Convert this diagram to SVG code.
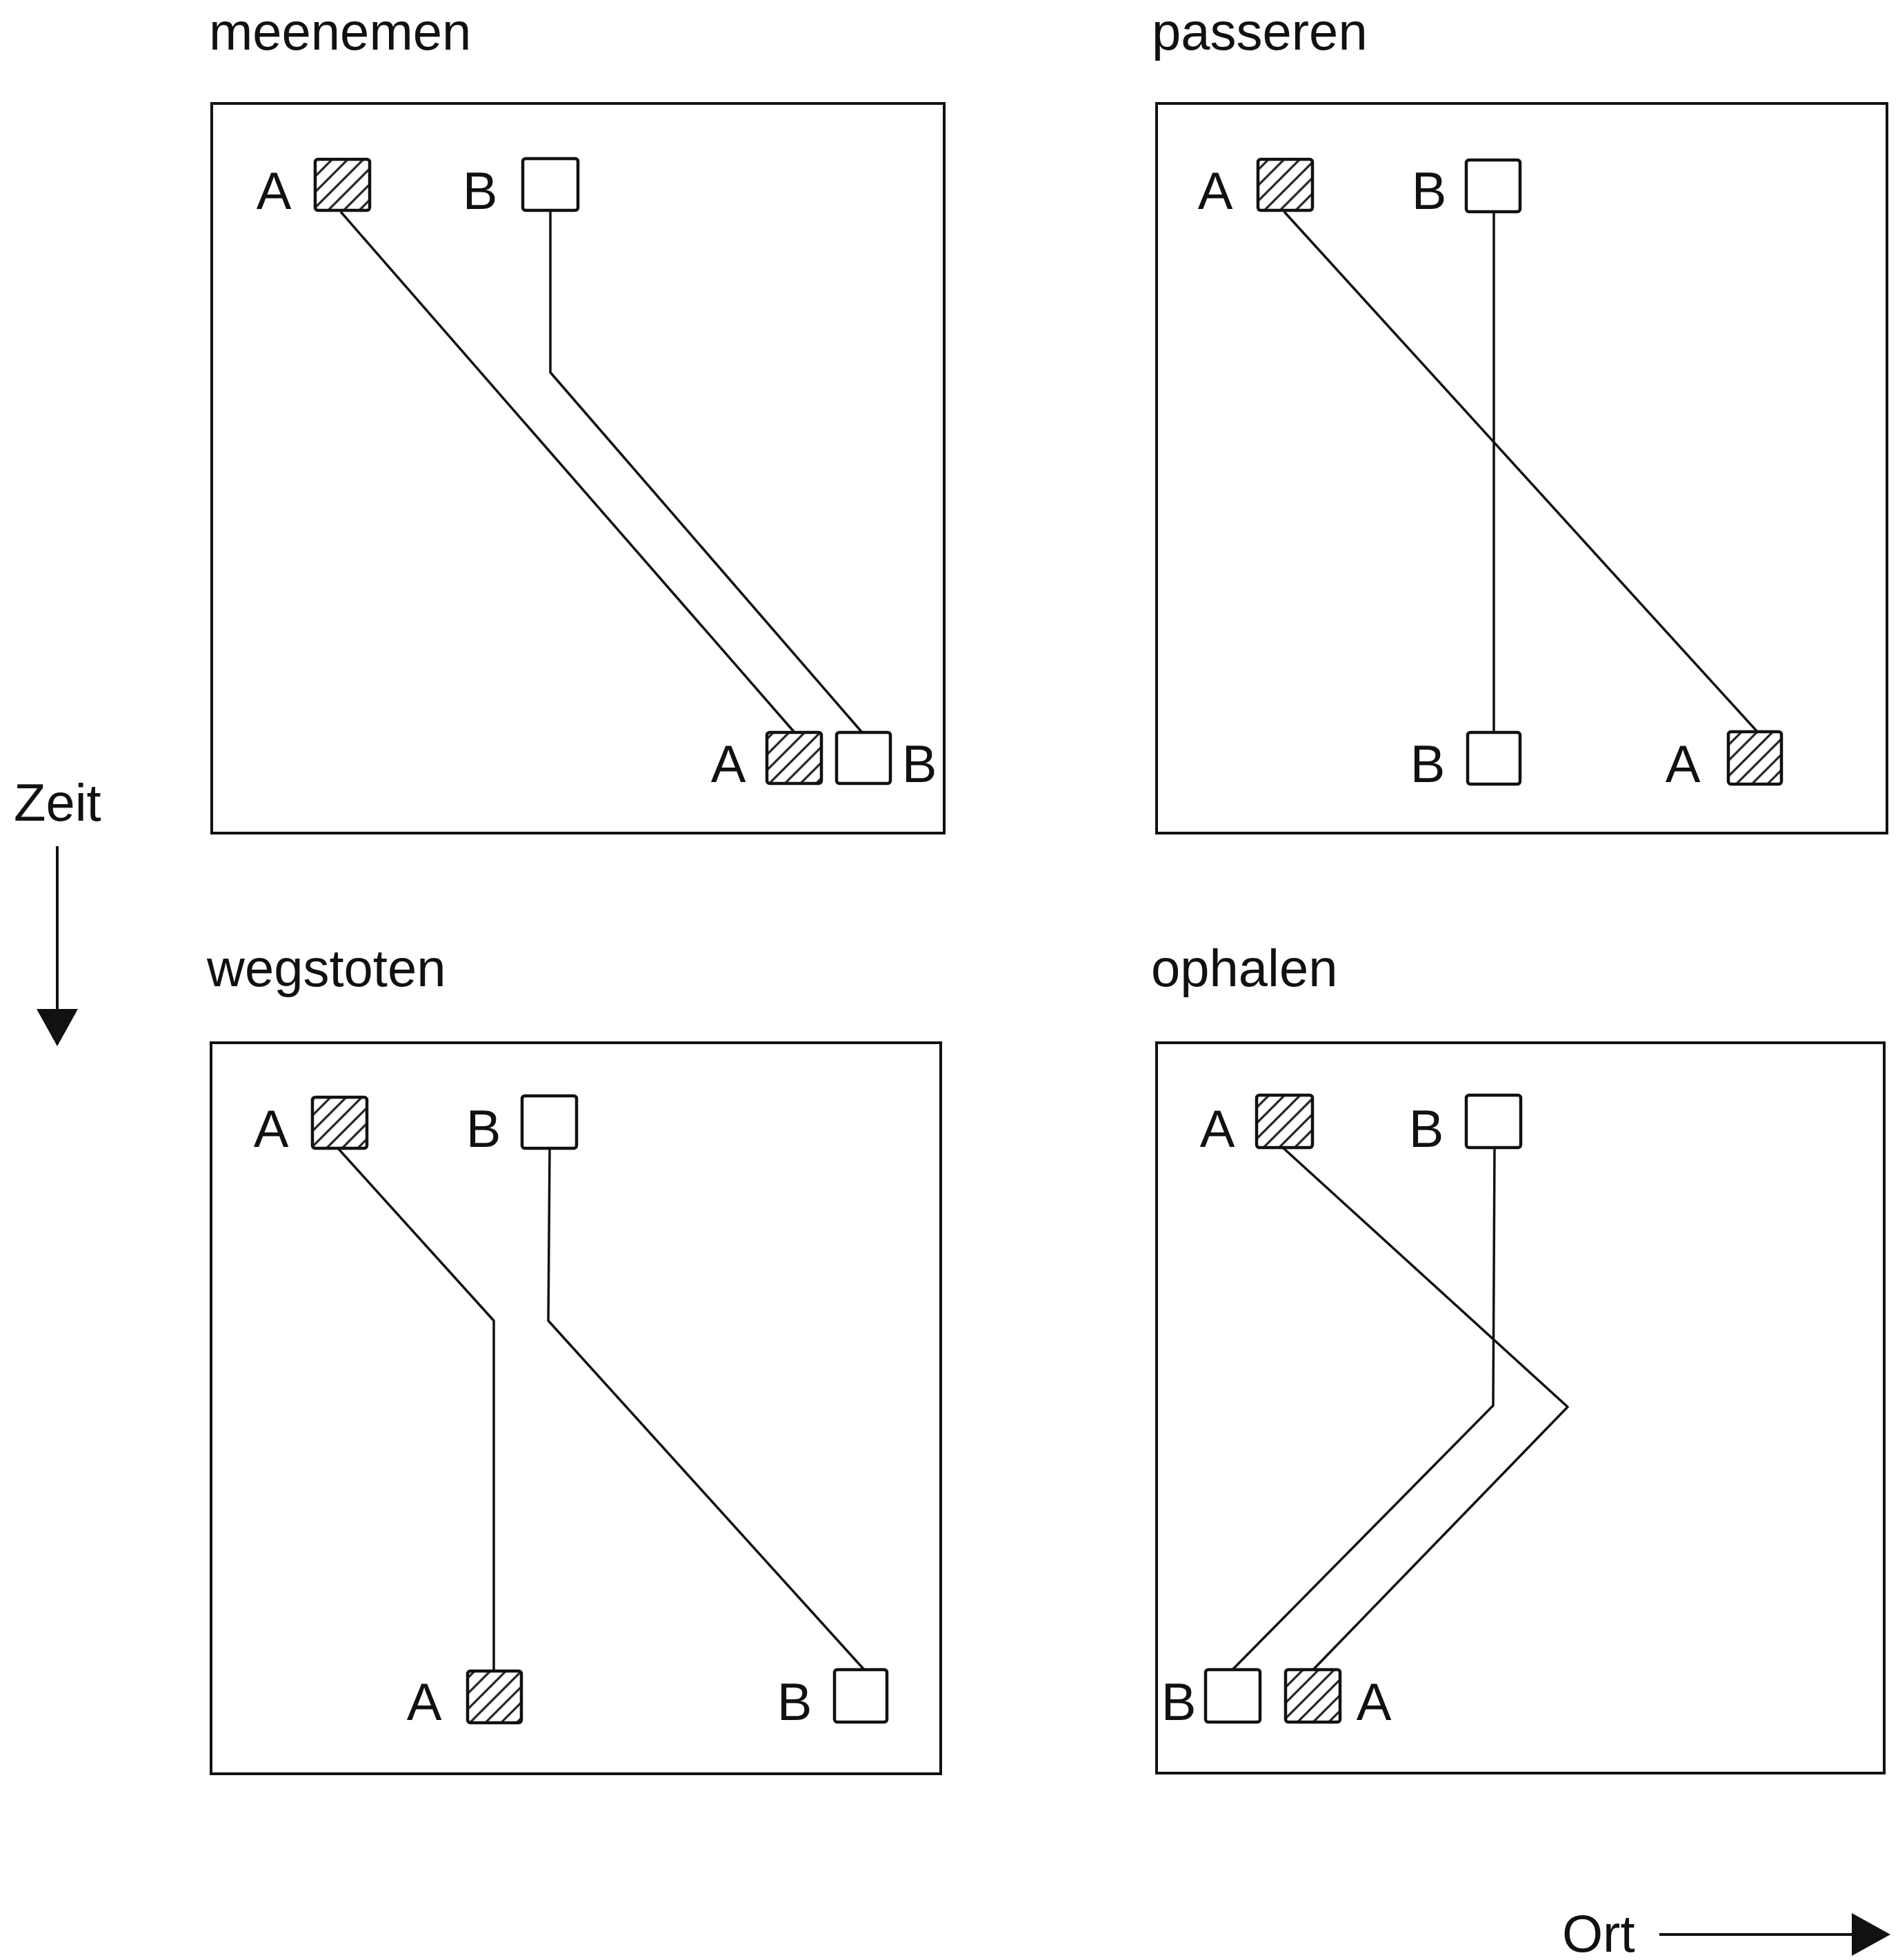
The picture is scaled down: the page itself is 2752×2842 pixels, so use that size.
<svg xmlns="http://www.w3.org/2000/svg" width="2752" height="2842" viewBox="0 0 2752 2842">
<defs>
<pattern id="hatch" patternUnits="userSpaceOnUse" width="16" height="16" patternTransform="rotate(45)">
<line x1="8" y1="-2" x2="8" y2="18" stroke="#111" stroke-width="3"/>
</pattern>
</defs>
<style>
.frame{fill:none;stroke:#111;stroke-width:4}
.conn{fill:none;stroke:#111;stroke-width:3.5;stroke-linejoin:round}
.sqA{fill:url(#hatch);stroke:#111;stroke-width:4.5}
.sqB{fill:#fff;stroke:#111;stroke-width:4.5}
.lbl{font-family:"Liberation Sans","DejaVu Sans",sans-serif;font-size:76px;fill:#111;text-anchor:middle}
.title{font-family:"Liberation Sans","DejaVu Sans",sans-serif;font-size:76px;fill:#111}
.arrowline{stroke:#111;stroke-width:4;fill:none}
.arrowhead{fill:#111}
</style>
<rect width="2752" height="2842" fill="#fff"/>

<text class="title" x="303" y="72">meenemen</text>
<text class="title" x="1670" y="72">passeren</text>
<text class="title" x="300" y="1430">wegstoten</text>
<text class="title" x="1669" y="1430">ophalen</text>

<g id="frames">
<rect id="frame-meenemen" class="frame" x="307" y="150" width="1062" height="1058"/>
<rect id="frame-passeren" class="frame" x="1677" y="150" width="1059" height="1058"/>
<rect id="frame-wegstoten" class="frame" x="306" y="1512" width="1058" height="1060"/>
<rect id="frame-ophalen" class="frame" x="1677" y="1512" width="1055" height="1059"/>
</g>

<g id="connectors">
<polyline class="conn" points="494,307 1152,1062"/>
<polyline class="conn" points="798,307 798,540 1250,1062"/>
<polyline class="conn" points="1862,307 2548,1061"/>
<polyline class="conn" points="2166,307 2166,1062"/>
<polyline class="conn" points="490,1665 716,1915 716,2423"/>
<polyline class="conn" points="797,1665 795,1915 1253,2421"/>
<polyline class="conn" points="1860,1664 2273,2040 1904,2421"/>
<polyline class="conn" points="2167,1664 2165,2038 1787,2421"/>
</g>

<g id="meenemen-A-start"><rect class="sqA" x="457" y="231" width="79" height="74" rx="4"/><text class="lbl" x="397" y="303">A</text></g>
<g id="meenemen-B-start"><rect class="sqB" x="758" y="230" width="80" height="75" rx="4"/><text class="lbl" x="696" y="303">B</text></g>
<g id="meenemen-A-end"><rect class="sqA" x="1112" y="1062" width="79" height="74" rx="4"/><text class="lbl" x="1056" y="1134">A</text></g>
<g id="meenemen-B-end"><rect class="sqB" x="1213" y="1062" width="78" height="74" rx="4"/><text class="lbl" x="1333" y="1134">B</text></g>

<g id="passeren-A-start"><rect class="sqA" x="1824" y="231" width="79" height="74" rx="4"/><text class="lbl" x="1762" y="303">A</text></g>
<g id="passeren-B-start"><rect class="sqB" x="2126" y="232" width="78" height="75" rx="4"/><text class="lbl" x="2072" y="303">B</text></g>
<g id="passeren-B-end"><rect class="sqB" x="2128" y="1062" width="76" height="75" rx="4"/><text class="lbl" x="2070" y="1134">B</text></g>
<g id="passeren-A-end"><rect class="sqA" x="2506" y="1061" width="77" height="76" rx="4"/><text class="lbl" x="2440" y="1134">A</text></g>

<g id="wegstoten-A-start"><rect class="sqA" x="453" y="1591" width="79" height="74" rx="4"/><text class="lbl" x="393" y="1663">A</text></g>
<g id="wegstoten-B-start"><rect class="sqB" x="757" y="1589" width="79" height="76" rx="4"/><text class="lbl" x="701" y="1663">B</text></g>
<g id="wegstoten-A-end"><rect class="sqA" x="678" y="2423" width="78" height="75" rx="4"/><text class="lbl" x="615" y="2494">A</text></g>
<g id="wegstoten-B-end"><rect class="sqB" x="1210" y="2421" width="76" height="76" rx="4"/><text class="lbl" x="1152" y="2494">B</text></g>

<g id="ophalen-A-start"><rect class="sqA" x="1822" y="1588" width="81" height="76" rx="4"/><text class="lbl" x="1765" y="1663">A</text></g>
<g id="ophalen-B-start"><rect class="sqB" x="2126" y="1588" width="79" height="76" rx="4"/><text class="lbl" x="2068" y="1663">B</text></g>
<g id="ophalen-B-end"><rect class="sqB" x="1748" y="2421" width="79" height="76" rx="4"/><text class="lbl" x="1709" y="2494">B</text></g>
<g id="ophalen-A-end"><rect class="sqA" x="1864" y="2421" width="79" height="76" rx="4"/><text class="lbl" x="1992" y="2494">A</text></g>

<g id="axis-zeit">
<text class="title" x="20" y="1190">Zeit</text>
<line class="arrowline" x1="83" y1="1227" x2="83" y2="1470"/>
<polygon class="arrowhead" points="53,1463 113,1463 83,1517"/>
</g>
<g id="axis-ort">
<text class="title" x="2265" y="2830">Ort</text>
<line class="arrowline" x1="2406" y1="2805" x2="2690" y2="2805"/>
<polygon class="arrowhead" points="2685,2774 2685,2836 2741,2805"/>
</g>
</svg>
